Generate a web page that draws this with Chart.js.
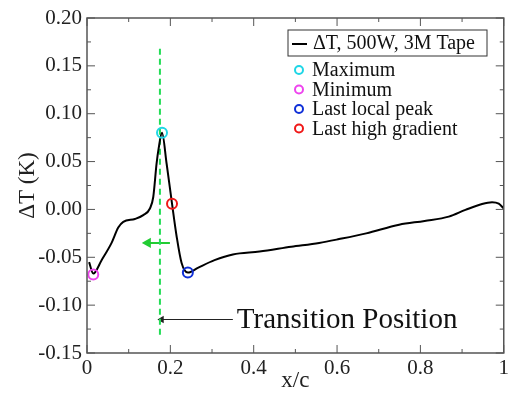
<!DOCTYPE html>
<html>
<head>
<meta charset="utf-8">
<script src="https://cdn.jsdelivr.net/npm/chart.js@4/dist/chart.umd.min.js"></script>
<style>
  html, body { margin: 0; padding: 0; background: #fff; }
  #wrap { width: 512px; height: 395px; }
</style>
</head>
<body>
<div id="wrap"><canvas id="chart" width="512" height="395"></canvas></div>
<script>
// curve
const xPos = [0.005, 0.015, 0.035, 0.059, 0.075, 0.087, 0.115, 0.135, 0.151, 0.159, 0.167, 0.172, 0.180, 0.191, 0.204, 0.215, 0.227, 0.242, 0.266, 0.306, 0.35, 0.414, 0.49, 0.557, 0.605, 0.67, 0.749, 0.81, 0.868, 0.908, 0.948, 0.972, 0.988, 1.0];
const dT = [-0.055, -0.067, -0.053, -0.035, -0.019, -0.013, -0.010, -0.006, 0.001, 0.013, 0.048, 0.064, 0.080, 0.048, 0.006, -0.028, -0.056, -0.066, -0.061, -0.053, -0.047, -0.044, -0.039, -0.035, -0.031, -0.025, -0.016, -0.012, -0.0075, -0.0005, 0.0057, 0.0075, 0.006, 0.001];

const markerNames = ['Maximum', 'Minimum', 'Last local peak', 'Last high gradient'];
const markerX = [0.18, 0.015, 0.242, 0.204];
const markerY = [0.080, -0.068, -0.066, 0.006];
const markerColors = ['#1ed6e6', '#ee44ee', '#1030d8', '#f01818'];

const transitionX = 0.175;
const transitionLineY = [-0.131, 0.168];
const greenArrowX = [0.146, 0.199];
const greenArrowY = -0.035;
const blackArrowX = [0.179, 0.35];
const blackArrowY = -0.115;

const seriesLabel = '\u0394T, 500W, 3M Tape';
const annotationText = 'Transition Position';

const serif = '"Liberation Serif", "DejaVu Serif", serif';

const datasets = [
  {
    label: seriesLabel,
    data: xPos.map((x, i) => ({ x: x, y: dT[i] })),
    showLine: true,
    borderColor: '#000',
    borderWidth: 2,
    pointRadius: 0,
    cubicInterpolationMode: 'monotone',
    fill: false,
    order: 2
  },
  {
    label: 'transition',
    data: transitionLineY.map(y => ({ x: transitionX, y: y })),
    showLine: true,
    borderColor: '#22dd55',
    borderWidth: 2,
    borderDash: [6, 4],
    pointRadius: 0,
    fill: false,
    order: 3
  },
  {
    label: 'greenArrow',
    data: greenArrowX.map(x => ({ x: x, y: greenArrowY })),
    showLine: true,
    borderColor: '#22cc33',
    backgroundColor: '#22cc33',
    borderWidth: 2,
    pointStyle: 'triangle',
    pointRadius: [4, 0],
    pointRotation: -90,
    fill: false,
    order: 3
  },
  {
    label: 'blackArrow',
    data: blackArrowX.map(x => ({ x: x, y: blackArrowY })),
    showLine: true,
    borderColor: '#222',
    backgroundColor: '#222',
    borderWidth: 1.2,
    pointStyle: 'triangle',
    pointRadius: [3, 0],
    pointRotation: -90,
    fill: false,
    order: 3
  }
];
markerNames.forEach((n, i) => {
  datasets.push({
    label: n,
    data: [{ x: markerX[i], y: markerY[i] }],
    showLine: false,
    pointStyle: 'circle',
    pointRadius: 5,
    borderWidth: 2,
    borderColor: markerColors[i],
    backgroundColor: 'rgba(0,0,0,0)',
    order: 1
  });
});

// inward ticks, mirrored frame, legend and annotation text
const decor = {
  id: 'decor',
  afterDraw(chart) {
    const ctx = chart.ctx;
    const xs = chart.scales.x, ys = chart.scales.y;
    const a = chart.chartArea;
    ctx.save();
    ctx.strokeStyle = '#555';
    ctx.lineWidth = 1.5;
    ctx.strokeRect(a.left, a.top, a.right - a.left, a.bottom - a.top);
    ctx.lineWidth = 1;
    for (let v = 0; v <= 1.0001; v += 0.1) {
      const px = xs.getPixelForValue(v);
      const major = Math.round(v * 10) % 2 === 0;
      const len = major ? 8 : 4;
      ctx.beginPath();
      ctx.moveTo(px, a.bottom); ctx.lineTo(px, a.bottom - len);
      ctx.moveTo(px, a.top); ctx.lineTo(px, a.top + len);
      ctx.stroke();
    }
    for (let k = -6; k <= 8; k++) {
      const v = k * 0.025;
      const py = ys.getPixelForValue(v);
      const len = k % 2 === 0 ? 8 : 4;
      ctx.beginPath();
      ctx.moveTo(a.left, py); ctx.lineTo(a.left + len, py);
      ctx.moveTo(a.right, py); ctx.lineTo(a.right - len, py);
      ctx.stroke();
    }

    // annotation
    ctx.fillStyle = '#111';
    ctx.font = '29px ' + serif;
    ctx.textBaseline = 'middle';
    ctx.textAlign = 'left';
    ctx.fillText(annotationText, xs.getPixelForValue(blackArrowX[1]) + 4, ys.getPixelForValue(blackArrowY) + 1);

    // legend
    const bx = 288, by = 30, bw = 199, bh = 26;
    ctx.fillStyle = '#fff';
    ctx.fillRect(bx, by, bw, bh);
    ctx.strokeStyle = '#333';
    ctx.lineWidth = 1;
    ctx.strokeRect(bx, by, bw, bh);
    ctx.strokeStyle = '#000';
    ctx.lineWidth = 2;
    ctx.beginPath();
    ctx.moveTo(bx + 4, by + bh / 2 + 1); ctx.lineTo(bx + 19, by + bh / 2 + 1);
    ctx.stroke();
    ctx.fillStyle = '#111';
    ctx.font = '20px ' + serif;
    ctx.fillText(seriesLabel, bx + 25, by + bh / 2 + 1);
    markerNames.forEach((n, i) => {
      const cy = 70 + i * 19.5;
      ctx.beginPath();
      ctx.strokeStyle = markerColors[i];
      ctx.lineWidth = 2;
      ctx.arc(299, cy, 4, 0, Math.PI * 2);
      ctx.stroke();
      ctx.fillStyle = '#111';
      ctx.fillText(n, 312, cy + 1);
    });
    ctx.restore();
  }
};

new Chart(document.getElementById('chart'), {
  type: 'scatter',
  data: { datasets: datasets },
  options: {
    responsive: false,
    animation: false,
    layout: { padding: { top: 18, right: 7, left: 0, bottom: 0 } },
    plugins: { legend: { display: false }, tooltip: { enabled: false } },
    scales: {
      x: {
        type: 'linear', min: 0, max: 1,
        grid: { display: false, drawTicks: false },
        border: { display: false },
        ticks: {
          stepSize: 0.2, padding: 3, color: '#222',
          font: { family: serif, size: 21 },
          callback: v => (Math.abs(v) < 1e-9 ? '0' : Math.abs(v - 1) < 1e-9 ? '1' : v.toFixed(1))
        },
        title: { display: true, text: 'x/c', color: '#222', font: { family: serif, size: 23 }, padding: { top: 2, bottom: 0 } },
        afterFit: s => { s.height = 42; }
      },
      y: {
        type: 'linear', min: -0.15, max: 0.2,
        grid: { display: false, drawTicks: false },
        border: { display: false },
        ticks: {
          stepSize: 0.05, padding: 5, color: '#222',
          font: { family: serif, size: 21 },
          callback: v => v.toFixed(2)
        },
        title: { display: true, text: '\u0394T (K)', color: '#222', font: { family: serif, size: 23 }, padding: { top: 14, bottom: 0 } },
        afterFit: s => { s.width = 87; }
      }
    }
  },
  plugins: [decor]
});
</script>
</body>
</html>
